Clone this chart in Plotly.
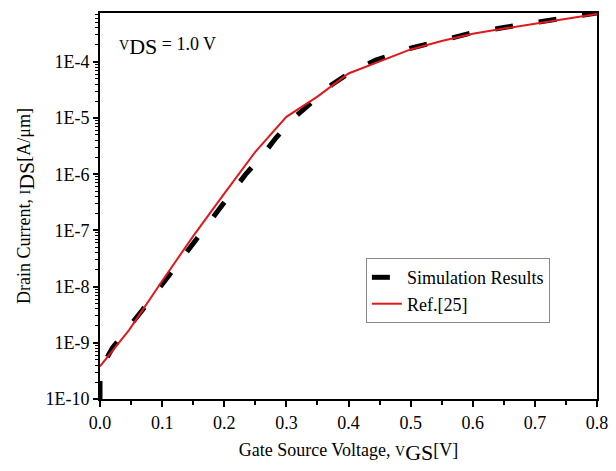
import plotly.graph_objects as go

# Simulation Results (black dashed)
sim_vgs = [0.0, 0.0, 0.02, 0.044, 0.068, 0.091, 0.118, 0.137, 0.165, 0.186, 0.213,
           0.234, 0.262, 0.283, 0.312, 0.339, 0.373, 0.404, 0.444, 0.50, 0.55,
           0.60, 0.65, 0.70, 0.75, 0.80]
sim_ids = [1.0e-10, 3.3e-10, 8.1e-10, 1.7e-9, 3.8e-9, 8.1e-9, 2.0e-8, 4.0e-8, 1.02e-7,
           2.0e-7, 4.9e-7, 9.8e-7, 2.2e-6, 4.4e-6, 1.0e-5, 1.8e-5, 3.9e-5, 6.6e-5,
           1.07e-4, 1.74e-4, 2.45e-4, 3.3e-4, 4.07e-4, 5.0e-4, 6.0e-4, 7.4e-4]

# Ref.[25] (red solid)
ref_vgs = [0.0, 0.047, 0.10, 0.15, 0.20, 0.25, 0.30, 0.35, 0.40, 0.45, 0.50,
           0.55, 0.60, 0.65, 0.70, 0.75, 0.80]
ref_ids = [3.8e-10, 1.7e-9, 1.26e-8, 7.9e-8, 4.5e-7, 2.5e-6, 1.05e-5, 2.4e-5, 6.2e-5,
           1.02e-4, 1.66e-4, 2.34e-4, 3.16e-4, 3.9e-4, 4.8e-4, 5.75e-4, 7.1e-4]

ytick_vals = [1e-10, 1e-9, 1e-8, 1e-7, 1e-6, 1e-5, 1e-4]
ytick_text = ["1E-10", "1E-9", "1E-8", "1E-7", "1E-6", "1E-5", "1E-4"]
xtick_vals = [0.0, 0.1, 0.2, 0.3, 0.4, 0.5, 0.6, 0.7, 0.8]
xtick_text = ["0.0", "0.1", "0.2", "0.3", "0.4", "0.5", "0.6", "0.7", "0.8"]

FONT = "Liberation Serif"

fig = go.Figure()
fig.add_trace(go.Scatter(x=sim_vgs, y=sim_ids, mode="lines", name="Simulation Results",
                         line=dict(color="black", width=5, dash="18px,26px")))
fig.add_trace(go.Scatter(x=ref_vgs, y=ref_ids, mode="lines", name="Ref.[25]",
                         line=dict(color="#e0191c", width=2)))

fig.update_layout(
    width=616, height=471,
    margin=dict(l=100, r=8, t=13, b=72),
    paper_bgcolor="white", plot_bgcolor="white",
    font=dict(family=FONT, size=18, color="black"),
    showlegend=True,
    legend=dict(x=0.535, y=0.365, xanchor="left", yanchor="top",
                bordercolor="#888888", borderwidth=1, bgcolor="white",
                font=dict(family=FONT, size=18), itemwidth=30,
                tracegroupgap=0),
    xaxis=dict(range=[0, 0.8], tickvals=xtick_vals, ticktext=xtick_text,
               showline=True, linecolor="black", linewidth=2, mirror=True,
               ticks="outside", ticklen=6, tickwidth=2, tickcolor="black",
               showgrid=False, zeroline=False, ticklabeloverflow="allow",
               minor=dict(ticks="outside", ticklen=4, tickwidth=2, dtick=0.05,
                          tickcolor="black", showgrid=False),
               title=dict(text="Gate Source Voltage, <span style='font-size:14px'>V</span><sub><span style='font-size:22px'>GS</span></sub>[V]",
                          font=dict(family=FONT, size=18), standoff=12)),
    yaxis=dict(type="log", range=[-10, -3.132], tickvals=ytick_vals, ticktext=ytick_text,
               showline=True, linecolor="black", linewidth=2, mirror=True,
               ticks="outside", ticklen=5, tickwidth=2, tickcolor="black",
               showgrid=False, zeroline=False,
               minor=dict(ticks="outside", ticklen=3, tickwidth=1, dtick="D1",
                          tickcolor="black", showgrid=False),
               title=dict(text="Drain Current, <span style='font-size:14px'>I</span><sub><span style='font-size:22px'>DS</span></sub>[A/μm]",
                          font=dict(family=FONT, size=18), standoff=10)),
    annotations=[dict(xref="paper", yref="paper", x=0.035, y=0.912, xanchor="left",
                      yanchor="middle", showarrow=False,
                      text="<span style='font-size:14px'>V</span><sub><span style='font-size:22px'>DS</span></sub> = 1.0 V",
                      font=dict(family=FONT, size=18, color="black"))],
)

fig.write_html("out.html")
